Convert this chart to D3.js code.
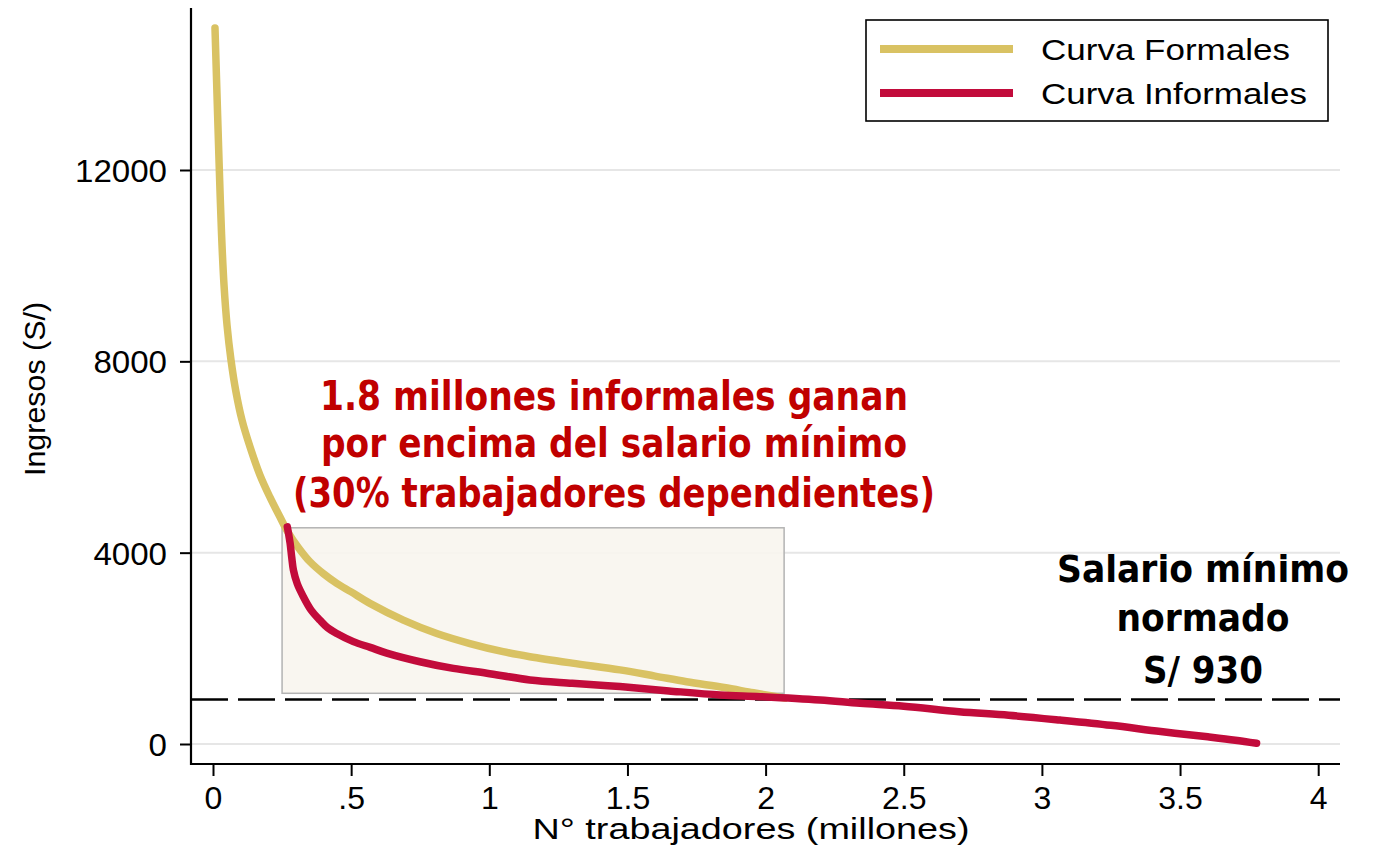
<!DOCTYPE html>
<html>
<head>
<meta charset="utf-8">
<script src="https://cdn.jsdelivr.net/npm/d3@7"></script>
<style>
  html, body { margin: 0; padding: 0; background: #fff; }
  svg { display: block; }
</style>
</head>
<body>
<svg id="chart" width="1383" height="849"></svg>
<script>
// ---- Data ----
const formalX = [0.0072, 0.0145, 0.0217, 0.0271, 0.0326, 0.0398, 0.0507, 0.0651, 0.0832, 0.105, 0.134, 0.170, 0.206, 0.242, 0.271, 0.31, 0.351, 0.40, 0.448, 0.50, 0.568, 0.689, 0.81, 0.93, 1.05, 1.147, 1.30, 1.473, 1.60, 1.714, 1.85, 1.956, 2.03, 2.07];
const formalY = [14970, 13570, 12210, 11270, 10430, 9600, 8760, 8030, 7360, 6770, 6210, 5620, 5160, 4750, 4430, 4100, 3810, 3560, 3360, 3180, 2940, 2590, 2310, 2100, 1930, 1825, 1690, 1550, 1420, 1300, 1180, 1070, 1000, 960];

const informalX = [0.269, 0.274, 0.279, 0.285, 0.291, 0.305, 0.327, 0.355, 0.387, 0.415, 0.448, 0.508, 0.569, 0.629, 0.749, 0.87, 0.991, 1.147, 1.30, 1.473, 1.65, 1.835, 1.98, 2.197, 2.342, 2.5, 2.70, 2.88, 3.065, 3.25, 3.43, 3.6, 3.70, 3.777];
const informalY = [4540, 4380, 4200, 3900, 3640, 3350, 3080, 2800, 2590, 2430, 2310, 2140, 2020, 1900, 1720, 1580, 1480, 1340, 1270, 1200, 1110, 1025, 990, 920, 850, 790, 675, 600, 500, 390, 260, 150, 80, 15];

const xTicks = [0, 0.5, 1, 1.5, 2, 2.5, 3, 3.5, 4];
const xTickLabels = ["0", ".5", "1", "1.5", "2", "2.5", "3", "3.5", "4"];
const yTicks = [0, 4000, 8000, 12000];
const yTickLabels = ["0", "4000", "8000", "12000"];

const minWage = 930;
const boxX = [0.25, 2.067];
const boxY = [1060, 4520];

const seriesNames = ["Curva Formales", "Curva Informales"];
const seriesColors = ["#d9c263", "#c20b3b"];

const annotRed = ["1.8 millones informales ganan", "por encima del salario mínimo", "(30% trabajadores dependientes)"];
const annotBlack = ["Salario mínimo", "normado", "S/ 930"];

// ---- Layout ----
const svg = d3.select("#chart");
const x = d3.scaleLinear().domain([0, 4]).range([213, 1318.2]);
const y = d3.scaleLinear().domain([0, 12000]).range([744, 170]);
const plotLeft = 191, plotRight = 1340, plotTop = 8, plotBottom = 764;
const sans = "'Liberation Sans', Arial, Helvetica, sans-serif";
const din = "'DejaVu Sans Condensed', 'DejaVu Sans', sans-serif";

// gridlines
svg.append("g").selectAll("line").data(yTicks).join("line")
  .attr("x1", plotLeft).attr("x2", plotRight)
  .attr("y1", d => y(d)).attr("y2", d => y(d))
  .attr("stroke", "#e6e6e6").attr("stroke-width", 2);

// shaded box
svg.append("rect")
  .attr("x", x(boxX[0])).attr("y", y(boxY[1]))
  .attr("width", x(boxX[1]) - x(boxX[0]))
  .attr("height", y(boxY[0]) - y(boxY[1]))
  .attr("fill", "#f8f5ee").attr("fill-opacity", 0.9)
  .attr("stroke", "#b3b3b3").attr("stroke-width", 1.5);

// min wage dashed line
svg.append("line")
  .attr("x1", plotLeft).attr("x2", plotRight)
  .attr("y1", y(minWage)).attr("y2", y(minWage))
  .attr("stroke", "#000").attr("stroke-width", 2.6)
  .attr("stroke-dasharray", "37,10");

// curves
const formal = formalX.map((v, i) => [v, formalY[i]]);
const informal = informalX.map((v, i) => [v, informalY[i]]);
const lineCurve = d3.line().x(d => x(d[0])).y(d => y(d[1])).curve(d3.curveCatmullRom.alpha(0.5));
svg.append("path").datum(formal).attr("d", lineCurve)
  .attr("fill", "none").attr("stroke", seriesColors[0]).attr("stroke-width", 7.5)
  .attr("stroke-linecap", "round").attr("stroke-linejoin", "round");
svg.append("path").datum(informal).attr("d", lineCurve)
  .attr("fill", "none").attr("stroke", seriesColors[1]).attr("stroke-width", 7.5)
  .attr("stroke-linecap", "round").attr("stroke-linejoin", "round");

// axes
const xAxis = d3.axisBottom(x).tickValues(xTicks).tickFormat((d, i) => xTickLabels[i]).tickSize(12).tickPadding(9);
const gx = svg.append("g").attr("transform", `translate(0,${plotBottom})`).call(xAxis);
gx.select(".domain").remove();
gx.selectAll(".tick line").attr("stroke", "#000").attr("stroke-width", 2);
gx.selectAll(".tick text").attr("font-family", sans).attr("font-size", 32).attr("fill", "#000")
  .attr("dy", "0.75em");
svg.append("line").attr("x1", plotLeft - 1).attr("x2", plotRight).attr("y1", plotBottom).attr("y2", plotBottom)
  .attr("stroke", "#000").attr("stroke-width", 2.2);

const yAxis = d3.axisLeft(y).tickValues(yTicks).tickFormat((d, i) => yTickLabels[i]).tickSize(11).tickPadding(13);
const gy = svg.append("g").attr("transform", `translate(${plotLeft},0)`).call(yAxis);
gy.select(".domain").remove();
gy.selectAll(".tick line").attr("stroke", "#000").attr("stroke-width", 2);
gy.selectAll(".tick text").attr("font-family", sans).attr("font-size", 32).attr("fill", "#000")
  .attr("dy", "0.36em")
  .attr("textLength", (d, i) => yTickLabels[i].length * 18.4)
  .attr("lengthAdjust", "spacingAndGlyphs");
svg.append("line").attr("x1", plotLeft).attr("x2", plotLeft).attr("y1", plotTop).attr("y2", plotBottom + 1)
  .attr("stroke", "#000").attr("stroke-width", 2.2);

// axis titles
svg.append("text").attr("x", 751).attr("y", 839).attr("text-anchor", "middle")
  .attr("font-family", sans).attr("font-size", 29).attr("fill", "#000")
  .attr("textLength", 437).attr("lengthAdjust", "spacingAndGlyphs")
  .text("N° trabajadores (millones)");
svg.append("text").attr("transform", "translate(45,389) rotate(-90)").attr("text-anchor", "middle")
  .attr("font-family", sans).attr("font-size", 29).attr("fill", "#000")
  .attr("textLength", 174).attr("lengthAdjust", "spacingAndGlyphs")
  .text("Ingresos (S/)");

// legend
const lg = svg.append("g");
lg.append("rect").attr("x", 866).attr("y", 20).attr("width", 462).attr("height", 101)
  .attr("fill", "#fff").attr("stroke", "#000").attr("stroke-width", 1.6);
const legendY = [49, 93];
const legendW = [249, 266];
seriesNames.forEach((name, i) => {
  lg.append("line").attr("x1", 880).attr("x2", 1013).attr("y1", legendY[i]).attr("y2", legendY[i])
    .attr("stroke", seriesColors[i]).attr("stroke-width", 8);
  lg.append("text").attr("x", 1041).attr("y", legendY[i] + 11)
    .attr("font-family", sans).attr("font-size", 29).attr("fill", "#000")
    .attr("textLength", legendW[i]).attr("lengthAdjust", "spacingAndGlyphs")
    .text(name);
});

// annotations
const redY = [410, 457, 507];
const redW = [588, 586, 642];
annotRed.forEach((t, i) => {
  svg.append("text").attr("x", 614).attr("y", redY[i]).attr("text-anchor", "middle")
    .attr("font-family", din).attr("font-weight", "bold").attr("font-size", 41)
    .attr("fill", "#c00000")
    .attr("textLength", redW[i]).attr("lengthAdjust", "spacingAndGlyphs")
    .text(t);
});
const blackY = [582, 631, 683];
const blackW = [292, 173, 120];
annotBlack.forEach((t, i) => {
  svg.append("text").attr("x", 1203).attr("y", blackY[i]).attr("text-anchor", "middle")
    .attr("font-family", din).attr("font-weight", "bold").attr("font-size", 38)
    .attr("fill", "#000")
    .attr("textLength", blackW[i]).attr("lengthAdjust", "spacingAndGlyphs")
    .text(t);
});
</script>
</body>
</html>
